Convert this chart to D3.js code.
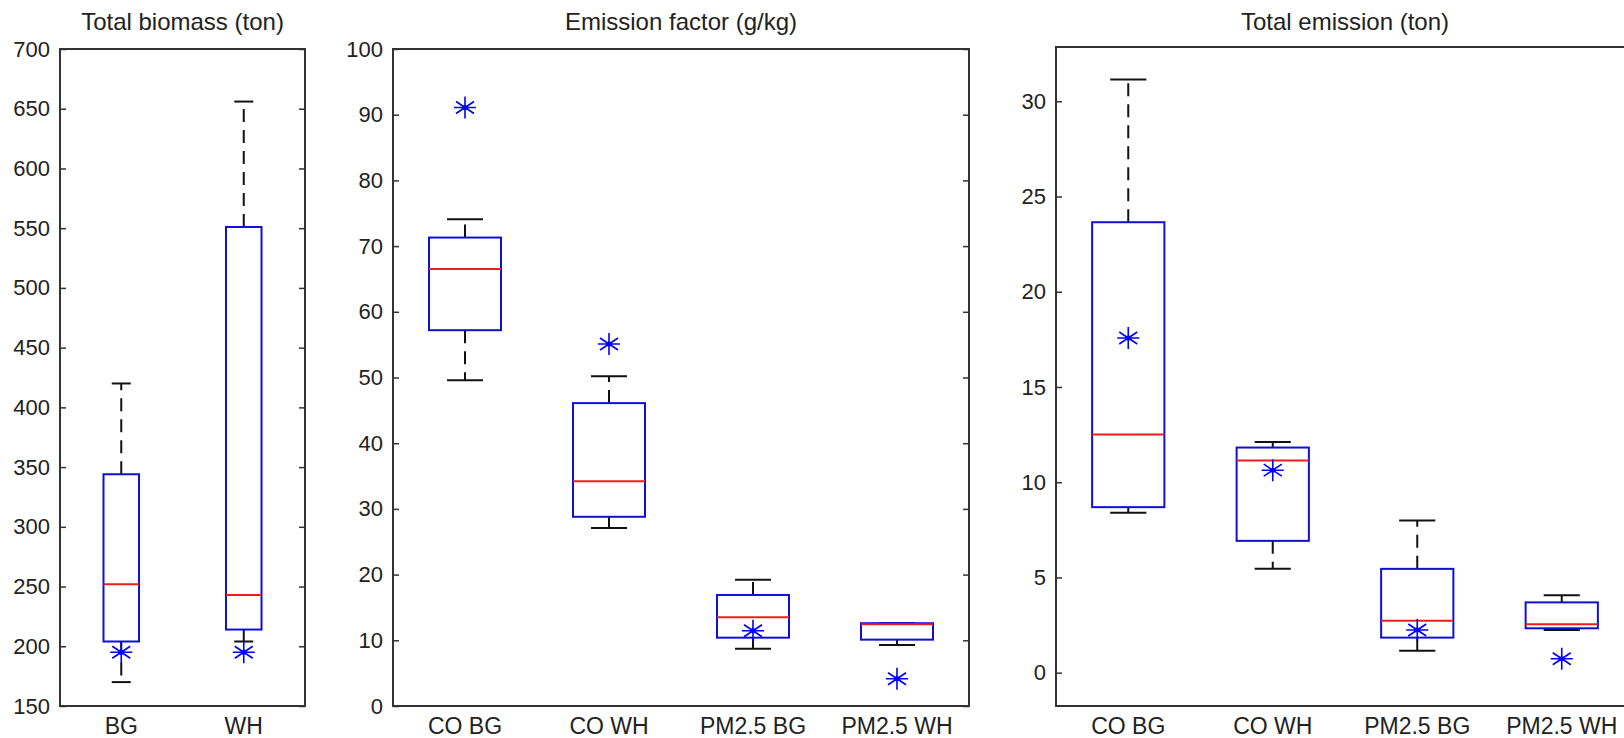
<!DOCTYPE html>
<html>
<head>
<meta charset="utf-8">
<script src="https://cdn.jsdelivr.net/npm/d3@7/dist/d3.min.js"></script>
<style>
body { margin: 0; background: #fff; }
text { font-family: "Liberation Sans", Arial, sans-serif; fill: #222; }
</style>
</head>
<body>
<div id="chart"></div>
<script>
// Total biomass (ton)
var biomassCats = ['BG', 'WH'];
var biomassLow = [170, 204];
var biomassQ1 = [204, 214];
var biomassMedian = [252, 243];
var biomassQ3 = [344, 551];
var biomassHigh = [420, 656];
var biomassStar = [195, 195];
var biomassTicks = [150, 200, 250, 300, 350, 400, 450, 500, 550, 600, 650, 700];

// Emission factor (g/kg)
var factorCats = ['CO BG', 'CO WH', 'PM2.5 BG', 'PM2.5 WH'];
var factorLow = [49.6, 27.1, 8.7, 9.3];
var factorQ1 = [57.2, 28.8, 10.4, 10.1];
var factorMedian = [66.5, 34.2, 13.5, 12.45];
var factorQ3 = [71.3, 46.1, 16.9, 12.6];
var factorHigh = [74.1, 50.2, 19.2, 12.6];
var factorStar = [91.1, 55.1, 11.45, 4.15];
var factorTicks = [0, 10, 20, 30, 40, 50, 60, 70, 80, 90, 100];

// Total emission (ton)
var emissionCats = ['CO BG', 'CO WH', 'PM2.5 BG', 'PM2.5 WH'];
var emissionLow = [8.39, 5.45, 1.15, 2.24];
var emissionQ1 = [8.69, 6.92, 1.84, 2.33];
var emissionMedian = [12.5, 11.14, 2.73, 2.54];
var emissionQ3 = [23.65, 11.82, 5.45, 3.69];
var emissionHigh = [31.15, 12.11, 7.99, 4.07];
var emissionStar = [17.57, 10.63, 2.24, 0.73];
var emissionTicks = [0, 5, 10, 15, 20, 25, 30];

var W = 1624, H = 738;

var svg = d3.select("#chart")
    .append("svg")
    .attr("width", W)
    .attr("height", H)
    .style("display", "block");

function rows(cats, lo, q1, med, q3, hi, star) {
    return cats.map(function(c, i) {
        return {cat: c, lo: lo[i], q1: q1[i], med: med[i], q3: q3[i], hi: hi[i], star: star[i]};
    });
}

var panels = [
    {title: 'Total biomass (ton)', data: rows(biomassCats, biomassLow, biomassQ1, biomassMedian, biomassQ3, biomassHigh, biomassStar),
     ticks: biomassTicks, domain: [150, 700], left: 60, right: 305, top: 49, bottom: 706, boxW: 0.29, capW: 0.155},
    {title: 'Emission factor (g/kg)', data: rows(factorCats, factorLow, factorQ1, factorMedian, factorQ3, factorHigh, factorStar),
     ticks: factorTicks, domain: [0, 100], left: 393, right: 969, top: 49, bottom: 706, boxW: 0.5, capW: 0.25},
    {title: 'Total emission (ton)', data: rows(emissionCats, emissionLow, emissionQ1, emissionMedian, emissionQ3, emissionHigh, emissionStar),
     ticks: emissionTicks, domain: [-1.75, 32.85], left: 1056, right: 1634, top: 47, bottom: 706, boxW: 0.5, capW: 0.25}
];

// matlab style '*' marker
var starPath = "M0,-11V11M-11,0H11M-9,-6L9,6M-9,6L9,-6";

panels.forEach(function(p) {
    var x = d3.scalePoint()
        .domain(p.data.map(function(d) { return d.cat; }))
        .range([p.left, p.right])
        .padding(0.5);
    var y = d3.scaleLinear()
        .domain(p.domain)
        .range([p.bottom, p.top]);
    var step = x.step();
    var bw = step * p.boxW, cw = step * p.capW;

    var g = svg.append("g");

    // title
    g.append("text")
        .attr("x", (p.left + p.right) / 2)
        .attr("y", 30)
        .attr("text-anchor", "middle")
        .style("font-size", "24px")
        .text(p.title);

    // y axis left + right (ticks inside)
    var yl = g.append("g")
        .attr("transform", "translate(" + p.left + ",0)")
        .call(d3.axisLeft(y).tickValues(p.ticks).tickSize(-6).tickPadding(10));
    yl.select(".domain").remove();
    yl.selectAll("text").style("font-size", "22px").attr("fill", "#222");
    yl.selectAll("line").attr("stroke", "#333").attr("stroke-width", 1.5);

    var yr = g.append("g")
        .attr("transform", "translate(" + p.right + ",0)")
        .call(d3.axisRight(y).tickValues(p.ticks).tickSize(-6).tickFormat(""));
    yr.select(".domain").remove();
    yr.selectAll("line").attr("stroke", "#333").attr("stroke-width", 1.5);

    // x labels
    g.selectAll(".xlab")
        .data(p.data)
        .enter().append("text")
        .attr("x", function(d) { return x(d.cat); })
        .attr("y", 734)
        .attr("text-anchor", "middle")
        .style("font-size", "23px")
        .text(function(d) { return d.cat; });

    // frame
    g.append("rect")
        .attr("x", p.left)
        .attr("y", p.top)
        .attr("width", p.right - p.left)
        .attr("height", p.bottom - p.top)
        .attr("fill", "none")
        .attr("stroke", "#333")
        .attr("stroke-width", 2);

    var b = g.selectAll(".bx")
        .data(p.data)
        .enter().append("g");

    // whiskers
    b.append("line")
        .attr("x1", function(d) { return x(d.cat); })
        .attr("x2", function(d) { return x(d.cat); })
        .attr("y1", function(d) { return y(d.q3); })
        .attr("y2", function(d) { return y(d.hi); })
        .attr("stroke", "#111").attr("stroke-width", 2)
        .attr("stroke-dasharray", "13,8");
    b.append("line")
        .attr("x1", function(d) { return x(d.cat); })
        .attr("x2", function(d) { return x(d.cat); })
        .attr("y1", function(d) { return y(d.q1); })
        .attr("y2", function(d) { return y(d.lo); })
        .attr("stroke", "#111").attr("stroke-width", 2)
        .attr("stroke-dasharray", "13,8");
    // caps
    ['hi', 'lo'].forEach(function(k) {
        b.append("line")
            .attr("x1", function(d) { return x(d.cat) - cw / 2; })
            .attr("x2", function(d) { return x(d.cat) + cw / 2; })
            .attr("y1", function(d) { return y(d[k]); })
            .attr("y2", function(d) { return y(d[k]); })
            .attr("stroke", "#111").attr("stroke-width", 2);
    });

    // box
    b.append("rect")
        .attr("x", function(d) { return x(d.cat) - bw / 2; })
        .attr("y", function(d) { return y(d.q3); })
        .attr("width", bw)
        .attr("height", function(d) { return y(d.q1) - y(d.q3); })
        .attr("fill", "none")
        .attr("stroke", "#1010d0")
        .attr("stroke-width", 2);

    // median
    b.append("line")
        .attr("x1", function(d) { return x(d.cat) - bw / 2; })
        .attr("x2", function(d) { return x(d.cat) + bw / 2; })
        .attr("y1", function(d) { return y(d.med); })
        .attr("y2", function(d) { return y(d.med); })
        .attr("stroke", "#ee1c1c").attr("stroke-width", 2);

    // star markers
    b.append("path")
        .attr("transform", function(d) { return "translate(" + x(d.cat) + "," + y(d.star) + ")"; })
        .attr("d", starPath)
        .attr("fill", "none")
        .attr("stroke", "#0000ff")
        .attr("stroke-width", 1.6);
    b.append("circle")
        .attr("cx", function(d) { return x(d.cat); })
        .attr("cy", function(d) { return y(d.star); })
        .attr("r", 2.5)
        .attr("fill", "#0000ff");
});
</script>
</body>
</html>
